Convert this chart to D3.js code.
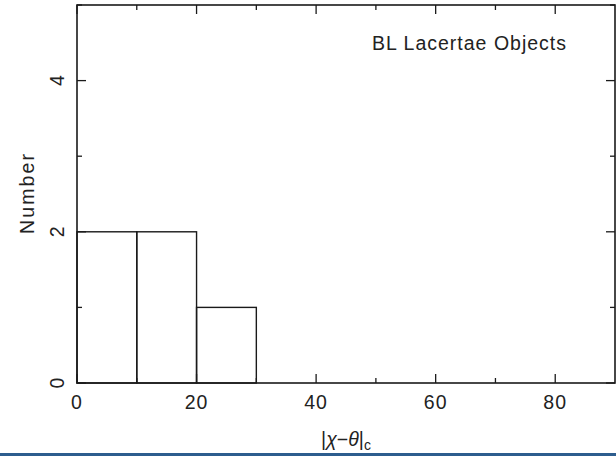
<!DOCTYPE html>
<html>
<head>
<meta charset="utf-8">
<script src="https://cdn.jsdelivr.net/npm/d3@7"></script>
<style>
  html, body { margin: 0; padding: 0; background: #fff; }
  svg { display: block; }
  text { font-family: "Liberation Sans", Arial, sans-serif; fill: #222; }
</style>
</head>
<body>
<svg id="chart" width="616" height="456"></svg>
<script>
// Histogram of |chi - theta|_c for BL Lacertae objects
const binStarts = [0, 10, 20];
const binEnds = [10, 20, 30];
const counts = [2, 2, 1];

const xMajorTicks = [0, 20, 40, 60, 80];
const xMinorTicks = [10, 30, 50, 70];
const yMajorTicks = [0, 2, 4];
const yMinorTicks = [1, 3, 5];
const xTickLabels = ["0", "20", "40", "60", "80"];
const yTickLabels = ["0", "2", "4"];

const title = "BL Lacertae Objects";
const yLabel = "Number";

const W = 616, H = 456;
const plotLeft = 77, plotRight = 615, plotTop = 5, plotBottom = 383;

const svg = d3.select("#chart");
const x = d3.scaleLinear().domain([0, 90]).range([plotLeft, plotRight]);
const y = d3.scaleLinear().domain([0, 5]).range([plotBottom, plotTop]);

const ink = "#1a1a1a";

// histogram bars (outlines only)
svg.append("g").selectAll("rect")
  .data(counts)
  .join("rect")
  .attr("x", (d, i) => x(binStarts[i]))
  .attr("y", d => y(d))
  .attr("width", (d, i) => x(binEnds[i]) - x(binStarts[i]))
  .attr("height", d => y(0) - y(d))
  .attr("fill", "none")
  .attr("stroke", ink)
  .attr("stroke-width", 1.4);

// frame
svg.append("rect")
  .attr("x", plotLeft).attr("y", plotTop)
  .attr("width", plotRight - plotLeft).attr("height", plotBottom - plotTop)
  .attr("fill", "none").attr("stroke", ink).attr("stroke-width", 1.6);

// inward ticks on all four sides
const ticks = svg.append("g").attr("stroke", ink).attr("stroke-width", 1.3);
const majorLen = 9, minorLen = 5;
function xTicksAt(vals, len) {
  vals.forEach(v => {
    ticks.append("line").attr("x1", x(v)).attr("x2", x(v)).attr("y1", plotBottom).attr("y2", plotBottom - len);
    ticks.append("line").attr("x1", x(v)).attr("x2", x(v)).attr("y1", plotTop).attr("y2", plotTop + len);
  });
}
function yTicksAt(vals, len) {
  vals.forEach(v => {
    ticks.append("line").attr("y1", y(v)).attr("y2", y(v)).attr("x1", plotLeft).attr("x2", plotLeft + len);
    ticks.append("line").attr("y1", y(v)).attr("y2", y(v)).attr("x1", plotRight).attr("x2", plotRight - len);
  });
}
xTicksAt(xMajorTicks, majorLen);
xTicksAt(xMinorTicks, minorLen);
yTicksAt(yMajorTicks, majorLen);
yTicksAt(yMinorTicks, minorLen);

// x tick labels
svg.append("g").selectAll("text")
  .data(xMajorTicks)
  .join("text")
  .attr("x", d => x(d))
  .attr("y", 409)
  .attr("text-anchor", "middle")
  .attr("font-size", 19.5)
  .attr("letter-spacing", 1)
  .text((d, i) => xTickLabels[i]);

// y tick labels (rotated)
svg.append("g").selectAll("text")
  .data(yMajorTicks)
  .join("text")
  .attr("transform", d => `translate(64,${y(d)}) rotate(-90)`)
  .attr("text-anchor", "middle")
  .attr("font-size", 19.5)
  .text((d, i) => yTickLabels[i]);

// y axis title
svg.append("text")
  .attr("transform", `translate(34,${(plotTop + plotBottom) / 2}) rotate(-90)`)
  .attr("text-anchor", "middle")
  .attr("font-size", 19.5)
  .attr("textLength", 80)
  .attr("lengthAdjust", "spacing")
  .text(yLabel);

// x axis title |chi - theta|_c
const xt = svg.append("text")
  .attr("x", (plotLeft + plotRight) / 2)
  .attr("y", 446)
  .attr("text-anchor", "middle")
  .attr("font-size", 19.5);
xt.append("tspan").text("|");
xt.append("tspan").attr("font-style", "italic").text("χ");
xt.append("tspan").text("−");
xt.append("tspan").attr("font-style", "italic").text("θ");
xt.append("tspan").text("|");
xt.append("tspan").attr("dy", 4).attr("font-size", 14).text("c");

// plot title
svg.append("text")
  .attr("x", 372)
  .attr("y", 50)
  .attr("font-size", 19.5)
  .attr("textLength", 194)
  .attr("lengthAdjust", "spacing")
  .text(title);

// bottom band
svg.append("rect")
  .attr("x", 0).attr("y", 453)
  .attr("width", W).attr("height", 3)
  .attr("fill", "#2d5d8e");
</script>
</body>
</html>
